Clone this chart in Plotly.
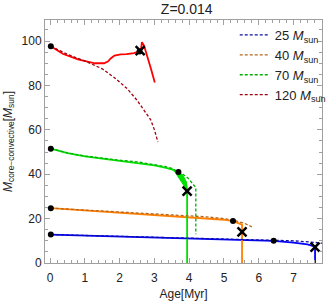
import plotly.graph_objects as go

# ---- data ----
masses = ["25", "40", "70", "120"]
solid_colors = ["#0000ff", "#ff8000", "#00e000", "#ff0000"]
dash_colors = ["#1010a0", "#b8661c", "#00b000", "#a00010"]

age_25 = [0.02, 1, 2, 3, 4, 5, 6, 6.43, 7, 7.4, 7.62, 7.62]
m_25 = [12.8, 12.4, 12.0, 11.5, 11.1, 10.7, 10.3, 10.0, 9.2, 8.4, 7.4, 0]
age_25d = [0.02, 2, 4, 6, 7, 7.6, 7.9]
m_25d = [12.8, 12.1, 11.3, 10.6, 10.0, 9.3, 8.8]

age_40 = [0.02, 1, 2, 3, 4, 4.5, 5, 5.26, 5.4, 5.52, 5.52]
m_40 = [24.7, 23.7, 22.6, 21.6, 20.8, 20.3, 19.5, 18.9, 18.2, 17.3, 0]
age_40d = [0.02, 1, 2, 3, 4, 4.5, 5, 5.3, 5.6, 5.8]
m_40d = [24.7, 23.8, 22.8, 22.0, 21.3, 20.8, 20.0, 19.2, 17.8, 16.3]

age_70 = [0.02, 0.5, 1, 1.5, 2, 2.5, 3, 3.3, 3.5, 3.69, 3.8, 3.9, 3.94, 3.94]
m_70 = [51.5, 49.5, 48.0, 47.0, 46.0, 45.2, 44.0, 43.0, 42.2, 41.0, 39.0, 36.0, 32.4, 0]
age_70d = [0.02, 0.5, 1, 1.5, 2, 2.5, 3, 3.3, 3.5, 3.69, 3.8, 3.97, 4.1, 4.19, 4.19]
m_70d = [51.5, 49.6, 48.2, 47.2, 46.3, 45.6, 44.5, 43.5, 42.6, 41.3, 40.2, 38.2, 35.5, 34.0, 12.9]
age_70band = [3.5, 3.69, 3.82, 3.92, 3.95, 3.86, 3.72, 3.6, 3.5]
m_70band = [42.4, 41.2, 39.5, 36.5, 32.4, 34.5, 38.0, 40.8, 42.4]

age_120 = [0.02, 0.36, 0.8, 1.29, 1.55, 1.66, 1.75, 1.85, 2.03, 2.2, 2.41, 2.59, 2.62, 2.64, 2.7, 2.8, 2.9, 3.01]
m_120 = [97.7, 94.3, 91.8, 90.0, 90.0, 90.8, 92.3, 93.5, 94.0, 94.1, 94.6, 95.5, 97.0, 99.5, 98.0, 93.0, 87.5, 81.3]
age_120d = [0.02, 0.5, 1.0, 1.29, 1.5, 1.85, 2.22, 2.5, 2.7, 2.89, 3.0, 3.1]
m_120d = [97.7, 94.0, 91.0, 89.0, 87.5, 83.5, 78.5, 73.3, 69.0, 64.6, 60.0, 54.5]

dot_age = [0.02, 0.02, 0.02, 0.02, 3.69, 5.26, 6.43, 2.57]
dot_m = [97.7, 51.5, 24.7, 12.8, 41.0, 18.9, 10.0, 95.3]
x_age = [2.59, 3.94, 5.52, 7.62]
x_m = [95.7, 32.4, 14.0, 7.2]

x_ticks = [0, 1, 2, 3, 4, 5, 6, 7]
y_ticks = [0, 20, 40, 60, 80, 100]

solids = [(age_25, m_25), (age_40, m_40), (age_70, m_70), (age_120, m_120)]
dashes = [(age_25d, m_25d), (age_40d, m_40d), (age_70d, m_70d), (age_120d, m_120d)]

fig = go.Figure()

for i in range(4):
    a, m = solids[i]
    fig.add_trace(go.Scatter(x=a, y=m, mode="lines", line=dict(color=solid_colors[i], width=1.8),
                             showlegend=False, hoverinfo="skip"))
fig.add_trace(go.Scatter(x=age_70band, y=m_70band, mode="lines", fill="toself",
                         fillcolor=solid_colors[2], line=dict(color=solid_colors[2], width=1),
                         showlegend=False, hoverinfo="skip"))
for i in range(4):
    a, m = dashes[i]
    fig.add_trace(go.Scatter(x=a, y=m, mode="lines",
                             line=dict(color=dash_colors[i], width=1.3, dash="3px,2px"),
                             name=masses[i] + " <i>M</i><sub>sun</sub>"))

fig.add_trace(go.Scatter(x=dot_age, y=dot_m, mode="markers",
                         marker=dict(color="black", size=6), showlegend=False, hoverinfo="skip"))
fig.add_trace(go.Scatter(x=x_age, y=x_m, mode="markers",
                         marker=dict(color="black", size=9, symbol="x-thin",
                                     line=dict(color="black", width=2.5)),
                         showlegend=False, hoverinfo="skip"))

axis_common = dict(showline=True, linecolor="#a0a0a0", linewidth=1, mirror="allticks",
                   ticks="inside", ticklen=5, tickcolor="#a0a0a0", showgrid=False, zeroline=False,
                   tickfont=dict(family="Liberation Sans, Arial, sans-serif", size=12, color="#222"))

fig.update_layout(
    width=332, height=301,
    margin=dict(l=45, r=1, t=20, b=38),
    paper_bgcolor="white", plot_bgcolor="white",
    title=dict(text="Z=0.014", x=0.5625, xanchor="center", y=0.985, yanchor="top",
               font=dict(family="Liberation Sans, Arial, sans-serif", size=14, color="#222")),
    font=dict(family="Liberation Sans, Arial, sans-serif", size=12, color="#222"),
    xaxis=dict(range=[-0.148, 7.82], tickvals=x_ticks, ticklabelstandoff=4,
               title=dict(text="Age[Myr]", standoff=5, font=dict(size=12)),
               minor=dict(dtick=0.2, ticks="inside", ticklen=3, tickcolor="#a0a0a0"),
               **axis_common),
    yaxis=dict(range=[0, 109.5], tickvals=y_ticks,
               title=dict(text="<i>M</i><sub>core\u2212convective</sub>[<i>M</i><sub>sun</sub>]",
                          standoff=6, font=dict(size=12)),
               minor=dict(dtick=5, ticks="inside", ticklen=3, tickcolor="#a0a0a0"),
               **axis_common),
    legend=dict(x=0.685, y=1.0, xanchor="left", yanchor="top", bgcolor="rgba(0,0,0,0)",
                font=dict(size=13), tracegroupgap=0),
)

fig.write_html("out.html", config={"displayModeBar": False},
               post_script="document.body.style.margin='0';document.body.style.overflow='hidden';")
